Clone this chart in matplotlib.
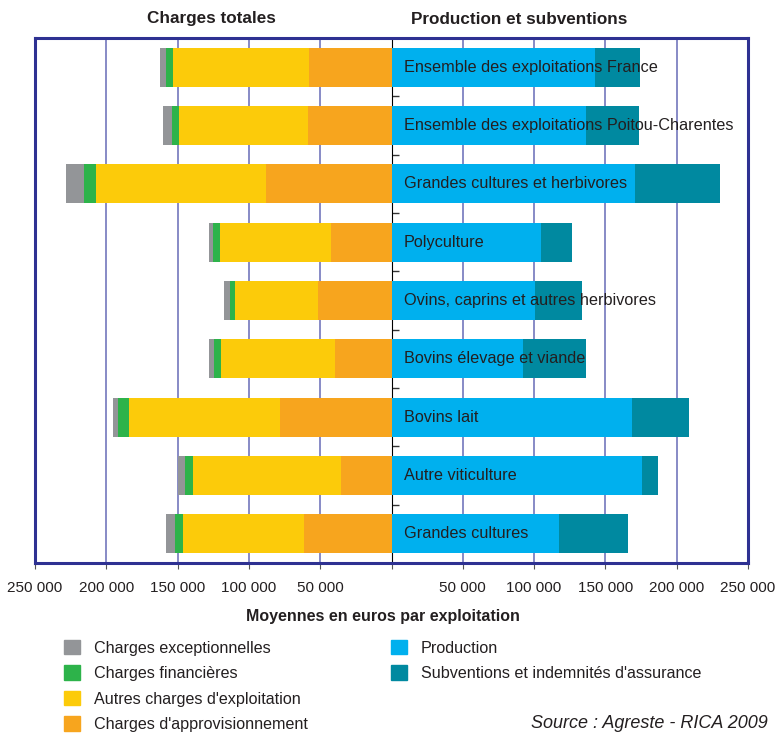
import numpy as np
import matplotlib
matplotlib.use('Agg')
import matplotlib.pyplot as plt
import matplotlib.patches as patches

plt.rcParams['font.family'] = ['Liberation Sans', 'DejaVu Sans']

categories = ['Ensemble des exploitations France',
              'Ensemble des exploitations Poitou-Charentes',
              'Grandes cultures et herbivores',
              'Polyculture',
              'Ovins, caprins et autres herbivores',
              'Bovins élevage et viande',
              'Bovins lait',
              'Autre viticulture',
              'Grandes cultures']

# charges (left side)
approvisionnement = [58000, 58800, 88300, 42600, 51800, 39800, 78400, 35600, 61600]
autres_charges = [95500, 89900, 118700, 77900, 57600, 80100, 106000, 103900, 84300]
financieres = [4900, 4900, 8400, 4900, 4200, 4900, 7700, 5600, 5600]
exceptionnelles = [4200, 6300, 12600, 2800, 4200, 3500, 3500, 4700, 6300]

# production (right side)
production = [142800, 136500, 170900, 104900, 100600, 92200, 168800, 175800, 117500]
subventions = [31600, 37200, 59700, 21800, 33000, 44200, 40000, 11200, 48500]

xticks = [-250000, -200000, -150000, -100000, -50000, 0, 50000, 100000, 150000, 200000, 250000]
xtick_labels = ['250 000', '200 000', '150 000', '100 000', '50 000', '',
                '50 000', '100 000', '150 000', '200 000', '250 000']

c_exc = '#939598'
c_fin = '#2db34a'
c_aut = '#fccb0a'
c_app = '#f7a51e'
c_prod = '#00b0ee'
c_sub = '#0089a0'
frame = '#2e3192'
txt = '#231f20'

fig = plt.figure(figsize=(7.78, 7.33), dpi=100)
ax = fig.add_axes([35/778, 1-563/733, 713/778, 525/733])

y = np.arange(len(categories))
h = 0.67
app = np.array(approvisionnement)
aut = np.array(autres_charges)
fin = np.array(financieres)
exc = np.array(exceptionnelles)
prod = np.array(production)
sub = np.array(subventions)

ax.barh(y, -app, height=h, color=c_app, zorder=2)
ax.barh(y, -aut, left=-app, height=h, color=c_aut, zorder=2)
ax.barh(y, -fin, left=-(app+aut), height=h, color=c_fin, zorder=2)
ax.barh(y, -exc, left=-(app+aut+fin), height=h, color=c_exc, zorder=2)
ax.barh(y, prod, height=h, color=c_prod, zorder=2)
ax.barh(y, sub, left=prod, height=h, color=c_sub, zorder=2)

for i, name in enumerate(categories):
    ax.text(8800, i, name, va='center', ha='left', fontsize=11.7, color=txt, zorder=3)

ax.set_xlim(-250000, 250000)
ax.set_ylim(len(categories) - 0.5, -0.5)
ax.set_xticks(xticks)
ax.set_xticklabels(xtick_labels, fontsize=11, color=txt)
ax.tick_params(axis='x', length=4, pad=9, color='#555555')
ax.tick_params(axis='y', left=False, labelleft=False)
for g in xticks[1:-1]:
    if g != 0:
        ax.axvline(g, color='#5a5fb0', lw=1.2, alpha=0.85, zorder=1)
for s in ax.spines.values():
    s.set_color(frame)
    s.set_linewidth(2.2)

# centre axis with small ticks between categories
sec = ax.secondary_yaxis(0.5)
sec.set_yticks(np.arange(len(categories) + 1) - 0.5)
sec.set_yticklabels([])
sec.tick_params(direction='out', length=5, width=1, color='#333333')
sec.spines['left'].set_color('#333333')
sec.spines['left'].set_linewidth(1.4)

fig.text(211/778, 1-19/733, 'Charges totales', ha='center', va='center',
         fontsize=12.3, fontweight='bold', color=txt)
fig.text(519/778, 1-19/733, 'Production et subventions', ha='center', va='center',
         fontsize=12.3, fontweight='bold', color=txt)
fig.text(383/778, 1-617/733, 'Moyennes en euros par exploitation', ha='center', va='center',
         fontsize=11.5, fontweight='bold', color=txt)

leg_kw = dict(loc='upper left', frameon=False, fontsize=11.6, handlelength=1.0,
              handleheight=1.0, handletextpad=0.85, labelspacing=0.6,
              borderpad=0, borderaxespad=0)
leg1 = fig.legend(handles=[patches.Patch(color=c_exc, label='Charges exceptionnelles'),
                           patches.Patch(color=c_fin, label='Charges financières'),
                           patches.Patch(color=c_aut, label="Autres charges d'exploitation"),
                           patches.Patch(color=c_app, label="Charges d'approvisionnement")],
                  bbox_to_anchor=(64/778, 1-640/733), **leg_kw)
leg2 = fig.legend(handles=[patches.Patch(color=c_prod, label='Production'),
                           patches.Patch(color=c_sub, label="Subventions et indemnités d'assurance")],
                  bbox_to_anchor=(391/778, 1-640/733), **leg_kw)
for leg in (leg1, leg2):
    for t in leg.get_texts():
        t.set_color(txt)

fig.text(531/778, 1-723/733, 'Source : Agreste - RICA 2009', ha='left', va='center',
         fontsize=13, style='italic', color=txt)

fig.savefig('out.png', dpi=100)
